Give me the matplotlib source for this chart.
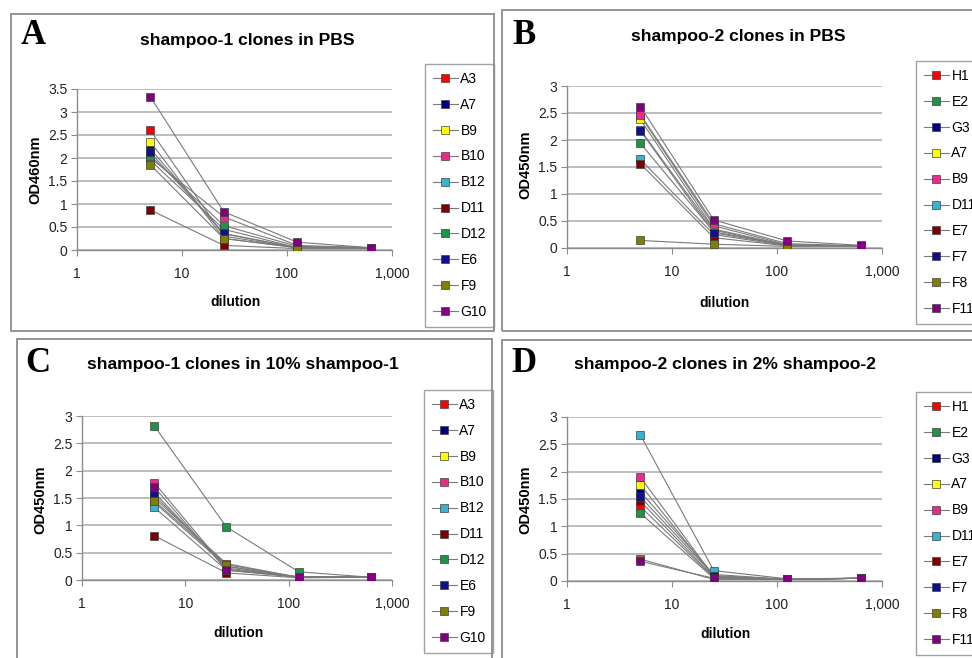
import matplotlib
matplotlib.use("Agg")
import matplotlib.pyplot as plt
from matplotlib.patches import Rectangle
from matplotlib.lines import Line2D
from matplotlib.ticker import FixedLocator, FuncFormatter

plt.rcParams["font.family"] = ["Liberation Sans", "DejaVu Sans"]

W, H = 972, 658

dilution = [5, 25, 125, 625]

clones_1 = ["A3", "A7", "B9", "B10", "B12", "D11", "D12", "E6", "F9", "G10"]
colors_1 = ["#FF0000", "#000080", "#FFFF00", "#F0288C", "#33B5D5",
            "#800000", "#1F9447", "#10108A", "#808000", "#800080"]

clones_2 = ["H1", "E2", "G3", "A7", "B9", "D11", "E7", "F7", "F8", "F11"]
colors_2 = ["#FF0000", "#1F9447", "#000080", "#FFFF00", "#F0288C",
            "#33B5D5", "#800000", "#10108A", "#808000", "#800080"]

# shampoo-1 clones in PBS
od_a = [
    [2.60, 0.30, 0.05, 0.05],
    [2.20, 0.35, 0.05, 0.04],
    [2.35, 0.25, 0.05, 0.04],
    [2.00, 0.72, 0.10, 0.05],
    [1.95, 0.45, 0.05, 0.04],
    [0.87, 0.10, 0.03, 0.03],
    [2.05, 0.53, 0.08, 0.05],
    [2.12, 0.36, 0.05, 0.04],
    [1.85, 0.25, 0.05, 0.04],
    [3.33, 0.83, 0.17, 0.05],
]

# shampoo-2 clones in PBS
od_b = [
    [2.45, 0.41, 0.06, 0.04],
    [1.94, 0.30, 0.05, 0.04],
    [2.19, 0.33, 0.05, 0.04],
    [2.38, 0.35, 0.05, 0.04],
    [2.47, 0.45, 0.08, 0.04],
    [1.64, 0.25, 0.04, 0.04],
    [1.56, 0.19, 0.04, 0.04],
    [2.17, 0.28, 0.05, 0.04],
    [0.14, 0.07, 0.03, 0.04],
    [2.62, 0.52, 0.13, 0.05],
]

# shampoo-1 clones in 10% shampoo-1
od_c = [
    [1.50, 0.30, 0.05, 0.05],
    [1.55, 0.25, 0.05, 0.05],
    [1.42, 0.25, 0.05, 0.05],
    [1.78, 0.20, 0.05, 0.05],
    [1.33, 0.18, 0.05, 0.05],
    [0.81, 0.13, 0.04, 0.05],
    [2.82, 0.97, 0.15, 0.05],
    [1.60, 0.22, 0.05, 0.05],
    [1.45, 0.28, 0.05, 0.05],
    [1.70, 0.18, 0.06, 0.06],
]

# shampoo-2 clones in 2% shampoo-2
od_d = [
    [1.36, 0.06, 0.03, 0.05],
    [1.24, 0.05, 0.03, 0.05],
    [1.63, 0.12, 0.03, 0.05],
    [1.76, 0.08, 0.03, 0.05],
    [1.90, 0.08, 0.03, 0.05],
    [2.67, 0.19, 0.04, 0.05],
    [1.46, 0.07, 0.03, 0.05],
    [1.54, 0.10, 0.03, 0.05],
    [0.40, 0.03, 0.03, 0.05],
    [0.36, 0.05, 0.04, 0.05],
]

fig = plt.figure(figsize=(W / 100, H / 100), dpi=100)
fig.patch.set_facecolor("white")


def fx(x):
    return x / W


def fy(y):
    return 1 - y / H


def panel(box, letter, letter_xy, title, title_xy, ax_px, ymax, ylabel,
          ylabel_xy, xlabel_xy, clones, colors, values, leg_xy):
    # grey frame around the panel
    bx0, by0, bx1, by1 = box
    fig.patches.append(Rectangle((fx(bx0), fy(by1)), fx(bx1 - bx0), (by1 - by0) / H,
                                 transform=fig.transFigure, fill=False,
                                 edgecolor="#8c8c8c", lw=1.3, zorder=0))
    fig.text(fx(letter_xy[0]), fy(letter_xy[1]), letter, family="Liberation Serif",
             weight="bold", fontsize=25, ha="left", va="center")
    fig.text(fx(title_xy[0]), fy(title_xy[1]), title, weight="bold",
             fontsize=12.6, ha="center", va="center")

    x0, x1, ytop, ybot = ax_px
    ax = fig.add_axes([fx(x0), fy(ybot), (x1 - x0) / W, (ybot - ytop) / H])
    for vals, c in zip(values, colors):
        ax.plot(dilution, vals, color="#7a7a7a", lw=0.8, marker="s", ms=6,
                mfc=c, mec="#404040", mew=0.5, zorder=3)

    ax.set_xscale("log")
    ax.set_xlim(1, 1000)
    ax.set_ylim(0, ymax)
    ax.xaxis.set_major_locator(FixedLocator([1, 10, 100, 1000]))
    ax.xaxis.set_minor_locator(FixedLocator([]))
    ax.xaxis.set_major_formatter(FuncFormatter(lambda v, p: f"{v:,.0f}"))
    yt = [i * 0.5 for i in range(int(ymax / 0.5) + 1)]
    ax.set_yticks(yt)
    ax.set_yticklabels([f"{v:g}" for v in yt])
    ax.yaxis.grid(True, color="#ababab", lw=1.1)
    ax.set_axisbelow(True)
    for s in ["top", "right"]:
        ax.spines[s].set_visible(False)
    for s in ["left", "bottom"]:
        ax.spines[s].set_color("#8c8c8c")
        ax.spines[s].set_linewidth(1.0)
    ax.tick_params(axis="both", direction="out", length=4, color="#8c8c8c",
                   labelsize=10, labelcolor="#222222")
    ax.tick_params(axis="x", pad=8)
    ax.tick_params(axis="y", pad=3)

    fig.text(fx(ylabel_xy[0]), fy(ylabel_xy[1]), ylabel, weight="bold", fontsize=10.5,
             rotation=90, ha="center", va="center")
    fig.text(fx(xlabel_xy[0]), fy(xlabel_xy[1]), "dilution", weight="bold",
             fontsize=10, ha="center", va="center")

    handles = [Line2D([], [], color="#7a7a7a", lw=0.8, marker="s", ms=6, mfc=c,
                      mec="#404040", mew=0.5) for c in colors]
    leg = ax.legend(handles, clones, loc="upper left",
                    bbox_to_anchor=(fx(leg_xy[0]), fy(leg_xy[1])),
                    bbox_transform=fig.transFigure, frameon=True, fancybox=False,
                    edgecolor="#8c8c8c", fontsize=10, numpoints=1,
                    handlelength=1.8, handletextpad=0.2, labelspacing=0.86,
                    borderpad=0.55, borderaxespad=0)
    leg.get_frame().set_linewidth(1.0)
    return ax


panel((11, 14, 494, 331), "A", (21, 36), "shampoo-1 clones in PBS", (247, 40),
      (77, 392, 89, 250), 3.5, "OD460nm", (35, 170), (235, 302),
      clones_1, colors_1, od_a, (425, 64))

panel((502, 10, 990, 331), "B", (512, 35), "shampoo-2 clones in PBS", (738, 37),
      (567, 882, 86, 248), 3.0, "OD450nm", (525, 165), (724, 303),
      clones_2, colors_2, od_b, (916, 61))

panel((17, 339, 492, 670), "C", (25, 363), "shampoo-1 clones in 10% shampoo-1",
      (243, 365), (82, 392, 416, 580), 3.0, "OD450nm", (40, 500), (238, 633),
      clones_1, colors_1, od_c, (424, 390))

panel((502, 340, 990, 670), "D", (511, 363), "shampoo-2 clones in 2% shampoo-2",
      (725, 365), (567, 882, 417, 581), 3.0, "OD450nm", (525, 500), (725, 634),
      clones_2, colors_2, od_d, (916, 392))

fig.savefig("out.png", dpi=100)
